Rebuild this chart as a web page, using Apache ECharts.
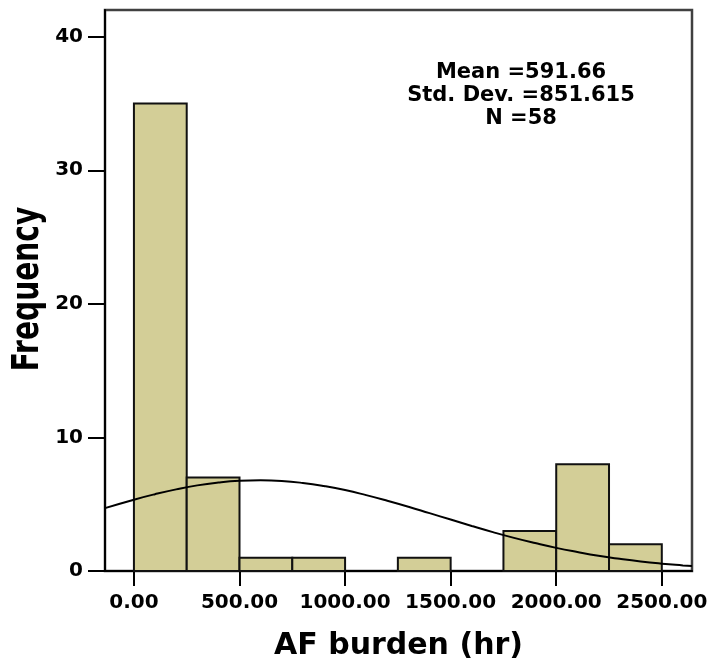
<!DOCTYPE html>
<html>
<head>
<meta charset="utf-8">
<script src="https://cdn.jsdelivr.net/npm/echarts@6/dist/echarts.min.js"></script>
<style>html,body{margin:0;padding:0;background:#fff}#c{width:713px;height:666px}</style>
</head>
<body>
<div id="c"></div>
<script>
// Histogram bins (hours)
const binStart = [0, 250, 500, 750, 1000, 1250, 1500, 1750, 2000, 2250];
const binEnd   = [250, 500, 750, 1000, 1250, 1500, 1750, 2000, 2250, 2500];
const counts   = [35, 7, 1, 1, 0, 1, 0, 3, 8, 2];

// Fitted normal curve
const curveX = [-137, 0, 100, 200, 300, 400, 500, 600, 700, 800, 900, 1000, 1100, 1200, 1300, 1400, 1500, 1600, 1700, 1800, 1900, 2000, 2100, 2200, 2300, 2400, 2500, 2600, 2643];
const curveY = [4.71, 5.34, 5.75, 6.11, 6.41, 6.62, 6.75, 6.79, 6.74, 6.59, 6.36, 6.06, 5.68, 5.26, 4.81, 4.33, 3.85, 3.37, 2.91, 2.48, 2.09, 1.73, 1.42, 1.14, 0.91, 0.71, 0.55, 0.42, 0.37];

const xTicks = [0, 500, 1000, 1500, 2000, 2500];
const yTicks = [0, 10, 20, 30, 40];

const statMean = '591.66';
const statSD = '851.615';
const statN = '58';

const FONT = '"DejaVu Sans", Verdana, sans-serif';

const chart = echarts.init(document.getElementById('c'), null, {renderer: 'canvas'});

const barData = binStart.map((s, i) => [s, binEnd[i], counts[i]]).filter(d => d[2] > 0);
const lineData = curveX.map((x, i) => [x, curveY[i]]);

chart.setOption({
  animation: false,
  backgroundColor: '#fff',
  grid: {left: 105, right: 21, top: 10, bottom: 95, show: true, borderColor: '#404040', borderWidth: 2.5, backgroundColor: 'transparent'},
  xAxis: {
    type: 'value', min: -137, max: 2643,
    name: 'AF burden (hr)', nameLocation: 'middle', nameGap: 60,
    nameTextStyle: {fontFamily: FONT, fontWeight: 'bold', fontSize: 30, color: '#000'},
    axisLine: {show: true, onZero: false, lineStyle: {color: '#000', width: 2}},
    axisTick: {show: true, length: 15, lineStyle: {color: '#000', width: 2}, customValues: xTicks},
    axisLabel: {customValues: xTicks, margin: 22, fontFamily: FONT, fontWeight: 'bold', fontSize: 20, color: '#000',
      formatter: v => v.toFixed(2)},
    splitLine: {show: false}
  },
  yAxis: {
    type: 'value', min: 0, max: 42,
    axisLine: {show: true, onZero: false, lineStyle: {color: '#000', width: 2}},
    axisTick: {show: true, length: 17, lineStyle: {color: '#000', width: 2}, customValues: yTicks},
    axisLabel: {customValues: yTicks, margin: 22, fontFamily: FONT, fontWeight: 'bold', fontSize: 20, color: '#000'},
    splitLine: {show: false}
  },
  graphic: [
    {type: 'text', x: 28, y: 289, rotation: Math.PI / 2, scaleX: 0.74, scaleY: 1,
      style: {text: 'Frequency', font: 'bold 38px ' + FONT, fill: '#000', textAlign: 'center', textVerticalAlign: 'middle'}},
    {type: 'text', x: 521, y: 61,
      style: {text: 'Mean =' + statMean + '\nStd. Dev. =' + statSD + '\nN =' + statN,
        font: 'bold 21px ' + FONT, lineHeight: 23, fill: '#000', textAlign: 'center', textVerticalAlign: 'top'}}
  ],
  series: [
    {
      type: 'custom',
      data: barData,
      encode: {x: [0, 1], y: 2},
      renderItem: function (params, api) {
        const p0 = api.coord([api.value(0), api.value(2)]);
        const p1 = api.coord([api.value(1), 0]);
        return {
          type: 'rect',
          shape: {x: p0[0], y: p0[1], width: p1[0] - p0[0], height: p1[1] - p0[1]},
          style: {fill: '#d3ce97', stroke: '#111', lineWidth: 2}
        };
      },
      z: 2
    },
    {
      type: 'line',
      data: lineData,
      smooth: true,
      showSymbol: false,
      lineStyle: {color: '#000', width: 2},
      z: 3
    }
  ]
});
</script>
</body>
</html>
